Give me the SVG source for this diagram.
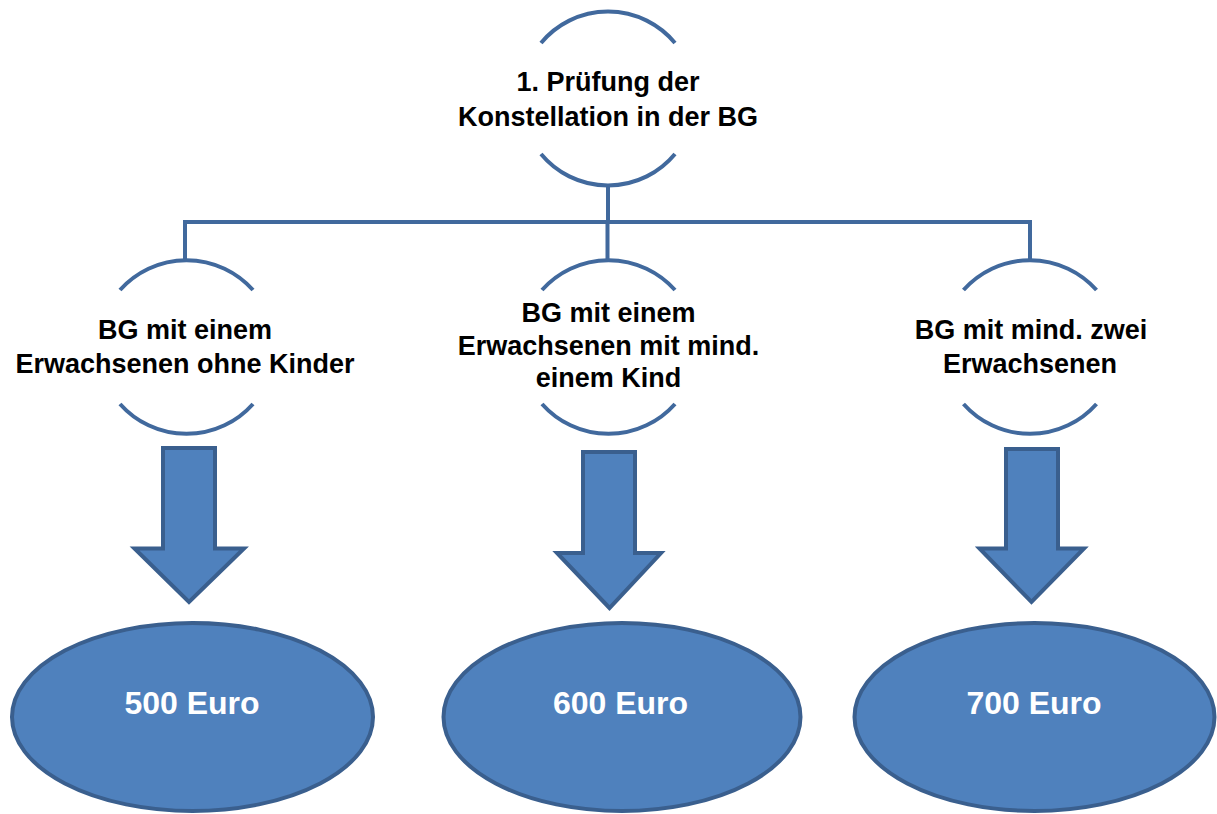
<svg xmlns="http://www.w3.org/2000/svg" width="1217" height="814" viewBox="0 0 1217 814">
  <style>
    .arc { fill: none; stroke: #41699d; stroke-width: 4; stroke-linecap: butt; }
    .conn { fill: none; stroke: #41699d; stroke-width: 4; }
    .lbl { font-family: "Liberation Sans", Arial, sans-serif; font-weight: bold; font-size: 27px; fill: #000; text-anchor: middle; }
    .arrow { fill: #4f81bd; stroke: #3a5f8e; stroke-width: 4; stroke-linejoin: miter; }
    .oval { fill: #4f81bd; stroke: #3a5f8e; stroke-width: 4; }
    .val { font-family: "Liberation Sans", Arial, sans-serif; font-weight: bold; font-size: 32px; fill: #fff; text-anchor: middle; }
  </style>
  <rect width="1217" height="814" fill="#fff"/>

  <g id="connectors">
    <path class="conn" d="M608 185 V222 M185 222 H1031 M185 220 V259 M607.5 222 V259 M1030 220 V259"/>
  </g>

  <g id="node-root">
    <path class="arc" d="M541 43 A87 87 0 0 1 675 43"/>
    <path class="arc" d="M541 154 A87 87 0 0 0 675 154"/>
    <text class="lbl" x="608" y="91">1. Prüfung der</text>
    <text class="lbl" x="608" y="125.5">Konstellation in der BG</text>
  </g>

  <g id="node-left">
    <path class="arc" d="M120 290 A89 89 0 0 1 253 290"/>
    <path class="arc" d="M120 404 A89 89 0 0 0 253 404"/>
    <text class="lbl" x="185" y="339">BG mit einem</text>
    <text class="lbl" x="185" y="373">Erwachsenen ohne Kinder</text>
  </g>

  <g id="node-middle">
    <path class="arc" d="M542 290 A89 89 0 0 1 675 290"/>
    <path class="arc" d="M542 404 A89 89 0 0 0 675 404"/>
    <text class="lbl" x="608.5" y="321.5">BG mit einem</text>
    <text class="lbl" x="608.5" y="354.5">Erwachsenen mit mind.</text>
    <text class="lbl" x="608.5" y="387">einem Kind</text>
  </g>

  <g id="node-right">
    <path class="arc" d="M963.5 290 A89 89 0 0 1 1096.5 290"/>
    <path class="arc" d="M963.5 404 A89 89 0 0 0 1096.5 404"/>
    <text class="lbl" x="1031" y="338.5">BG mit mind. zwei</text>
    <text class="lbl" x="1030" y="373">Erwachsenen</text>
  </g>

  <g id="arrow-left">
    <path class="arrow" d="M163 448 H215 V548.5 H244 L189 602 L134.5 548.5 H163 Z"/>
  </g>
  <g id="arrow-middle">
    <path class="arrow" d="M583 452 H635 V553 H661 L609.5 608 L557 553 H583 Z"/>
  </g>
  <g id="arrow-right">
    <path class="arrow" d="M1006 449 H1058 V548.5 H1084 L1031.5 602 L979.5 548.5 H1006 Z"/>
  </g>

  <g id="value-500">
    <ellipse class="oval" cx="192.5" cy="717" rx="180.5" ry="94"/>
    <text class="val" x="192" y="714">500 Euro</text>
  </g>
  <g id="value-600">
    <ellipse class="oval" cx="622" cy="717" rx="178.5" ry="94"/>
    <text class="val" x="620.5" y="714">600 Euro</text>
  </g>
  <g id="value-700">
    <ellipse class="oval" cx="1034.5" cy="717" rx="180" ry="94"/>
    <text class="val" x="1034" y="714">700 Euro</text>
  </g>
</svg>
